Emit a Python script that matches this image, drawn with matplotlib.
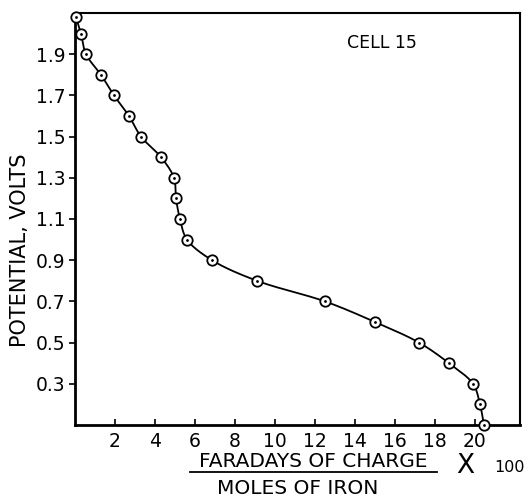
import matplotlib
matplotlib.use('Agg')
import numpy as np
from matplotlib import pyplot as plt
from matplotlib.lines import Line2D

# charge (faradays / moles of iron x 100) and cell potential
charge = [0.05, 0.3, 0.55, 1.3, 1.95, 2.7, 3.3, 4.3, 4.95, 5.05, 5.25, 5.6,
          6.85, 9.1, 12.5, 15.0, 17.2, 18.7, 19.9, 20.25, 20.45]
potential = [2.08, 2.0, 1.9, 1.8, 1.7, 1.6, 1.5, 1.4, 1.3, 1.2, 1.1, 1.0,
             0.9, 0.8, 0.7, 0.6, 0.5, 0.4, 0.3, 0.2, 0.1]

xticks = [2, 4, 6, 8, 10, 12, 14, 16, 18, 20]
yticks = [0.3, 0.5, 0.7, 0.9, 1.1, 1.3, 1.5, 1.7, 1.9]


def smooth_curve(x, y, n=30):
    # centripetal Catmull-Rom through the measured points (display only)
    xs = np.asarray(x, float) / 22.25
    ys = np.asarray(y, float) / 2.0
    P = np.column_stack([xs, ys])
    P = np.vstack([2 * P[0] - P[1], P, 2 * P[-1] - P[-2]])
    out = []
    for i in range(1, len(P) - 2):
        p0, p1, p2, p3 = P[i - 1], P[i], P[i + 1], P[i + 2]
        t0 = 0.0
        t1 = t0 + np.linalg.norm(p1 - p0) ** 0.5
        t2 = t1 + np.linalg.norm(p2 - p1) ** 0.5
        t3 = t2 + np.linalg.norm(p3 - p2) ** 0.5
        t = np.linspace(t1, t2, n)[:, None]
        a1 = (t1 - t) / (t1 - t0) * p0 + (t - t0) / (t1 - t0) * p1
        a2 = (t2 - t) / (t2 - t1) * p1 + (t - t1) / (t2 - t1) * p2
        a3 = (t3 - t) / (t3 - t2) * p2 + (t - t2) / (t3 - t2) * p3
        b1 = (t2 - t) / (t2 - t0) * a1 + (t - t0) / (t2 - t0) * a2
        b2 = (t3 - t) / (t3 - t1) * a2 + (t - t1) / (t3 - t1) * a3
        c = (t2 - t) / (t2 - t1) * b1 + (t - t1) / (t2 - t1) * b2
        out.append(c)
    out = np.vstack(out)
    return out[:, 0] * 22.25, out[:, 1] * 2.0


fig = plt.figure(figsize=(5.27, 4.98), dpi=100)
ax = fig.add_axes([0.1423, 0.1466, 0.8444, 0.8273])

cx, cy = smooth_curve(charge, potential)
ax.plot(cx, cy, color='black', linewidth=1.3, zorder=2)
ax.plot(charge, potential, linestyle='none', marker='o', markersize=7.5,
        markerfacecolor='white', markeredgecolor='black', markeredgewidth=1.3,
        zorder=3, clip_on=False)
ax.plot(charge, potential, linestyle='none', marker='.', markersize=2,
        color='black', zorder=4, clip_on=False)

ax.set_xlim(0, 22.25)
ax.set_ylim(0.1, 2.1)
ax.set_xticks(xticks)
ax.set_xticklabels([str(t) for t in xticks])
ax.set_yticks(yticks)
ax.set_yticklabels(['%.1f' % t for t in yticks])
ax.tick_params(axis='x', direction='in', length=4, width=1.2, labelsize=13.5, pad=5)
ax.tick_params(axis='y', direction='out', length=4, width=1.2, labelsize=13.5, pad=3)

for side in ['left', 'bottom']:
    ax.spines[side].set_linewidth(2)
for side in ['top', 'right']:
    ax.spines[side].set_linewidth(1.5)

ax.text(15.35, 1.955, 'CELL 15', fontsize=12.5, ha='center', va='center')

fig.text(20 / 527, 1 - 250 / 498, 'POTENTIAL, VOLTS', rotation=90,
         fontsize=15, ha='center', va='center')

fig.text(313 / 527, 1 - 461 / 498, 'FARADAYS OF CHARGE', fontsize=14.5,
         ha='center', va='center')
fig.add_artist(Line2D([190 / 527, 437 / 527], [1 - 472 / 498, 1 - 472 / 498],
                      color='black', linewidth=1.3))
fig.text(298 / 527, 1 - 488 / 498, 'MOLES OF IRON', fontsize=14.5,
         ha='center', va='center')
fig.text(465 / 527, 1 - 466 / 498, 'X', fontsize=19, ha='center', va='center')
fig.text(525 / 527, 1 - 472 / 498, '100', fontsize=11.5, ha='right',
         va='baseline')

fig.savefig('out.png', dpi=100)
